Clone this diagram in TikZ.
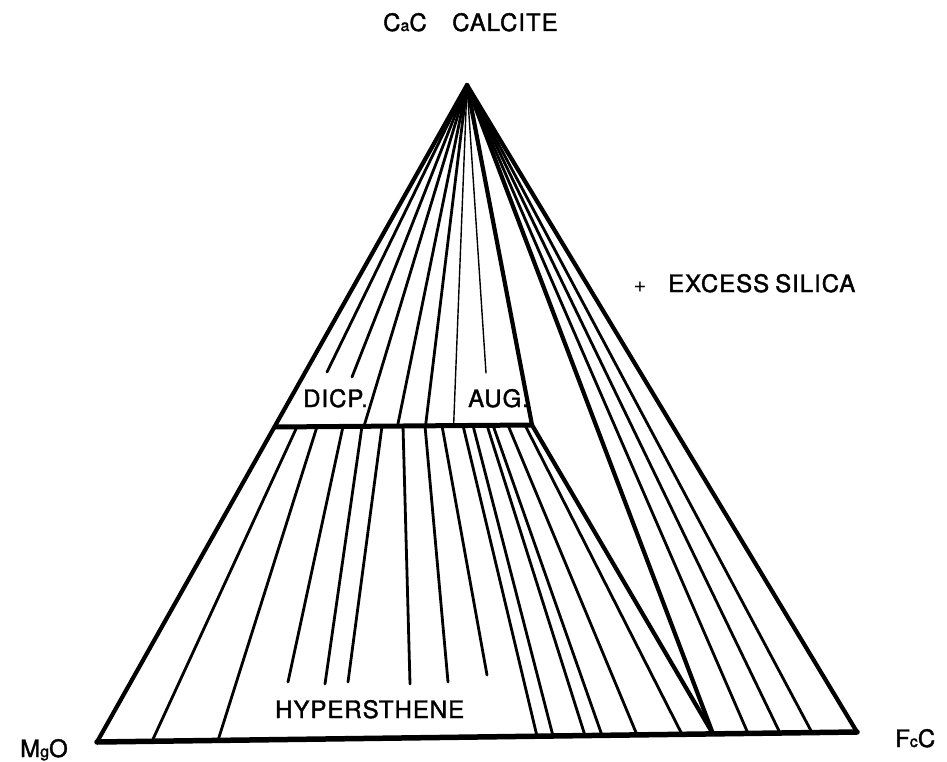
\documentclass[tikz,border=0pt]{standalone}
\usepackage{fontspec}
\setmainfont{TeX Gyre Heros}
\newfontfamily\lbl[LetterSpace=4,FakeBold=1.6]{TeX Gyre Heros}
\begin{document}
\begin{tikzpicture}[x=1pt,y=-1pt,
  edge/.style={line width=4.2pt, line join=round, line cap=round},
  tie/.style={line width=2.8pt, line cap=round},
  thintie/.style={line width=1.4pt, line cap=round},
  lab/.style={font=\lbl\fontsize{24}{24}\selectfont, inner sep=0pt, anchor=base west}]
\useasboundingbox (0,0) rectangle (947,762);
\newcommand{\lc}[1]{{\fontsize{16}{16}\selectfont #1}}
% main points
\coordinate (A) at (467,85);
\coordinate (M) at (97,742);
\coordinate (F) at (857,732);
\coordinate (BL) at (274,427);
\coordinate (BR) at (532,425);
\coordinate (V) at (713,733.9);
% upper region tie lines (apex to bar)
\foreach \x in {364,397.5,425.5}{\draw[tie] (A) -- (\x,426.2);}
\draw[thintie] (A) -- (453.6,425.8);
\draw[tie] (A) -- (327,372);
\draw[tie] (A) -- (352,377);
\draw[thintie] (A) -- (486,373);
% lower region tie lines
\draw[tie] (297,426.8) -- (152,741.3);
\draw[tie] (317,426.7) -- (218,740.4);
\draw[tie] (343,426.5) -- (288,682);
\draw[tie] (362,426.3) -- (325,684);
\draw[tie] (382,426.2) -- (348,682);
\draw[tie] (403,426) -- (410,684);
\draw[tie] (425,425.8) -- (448,682);
\draw[tie] (442,425.7) -- (487,675);
\draw[tie] (463,425.5) -- (537,736.2);
\draw[tie] (473,425.5) -- (553,736);
\draw[tie] (487,425.3) -- (585,735.6);
\draw[tie] (493,425.3) -- (602,735.4);
\draw[tie] (508,425.2) -- (637,734.9);
\draw[tie] (525,425.1) -- (682,734.3);
% right region tie lines
\draw[tie] (A) -- (748,733.4);
\draw[tie] (A) -- (780,733);
\draw[tie] (A) -- (812,732.6);
% heavy lines
\draw[edge] (A) -- (BR) -- (V);
\draw[edge] (A) -- (V);
\draw[edge] (M) -- (A) -- (F);
\draw[line width=5pt] (BL) -- (BR);
\draw[line width=5.5pt, line cap=round] (M) -- (F);
% labels
\node[lab] (cao) at (383,31) {C\lc{a}C};
\node[lab] (calcite) at (452,31) {CALCITE};
\node[font=\fontsize{22}{22}\selectfont, inner sep=0pt] (plus) at (640,287) {+};
\node[lab] (excess) at (668,292) {EXCESS};
\node[lab] (silica) at (775,292) {SILICA};
\node[lab] (dicp) at (303,407) {DICP.};
\node[lab] (aug) at (468,407) {AUG.};
\node[lab] (hyp) at (275,718) {HYPERSTHENE};
\node[lab] (mgo) at (20,757) {M\lc{g}O};
\node[lab] (feo) at (895,747) {F\lc{c}C};
\end{tikzpicture}
\end{document}
